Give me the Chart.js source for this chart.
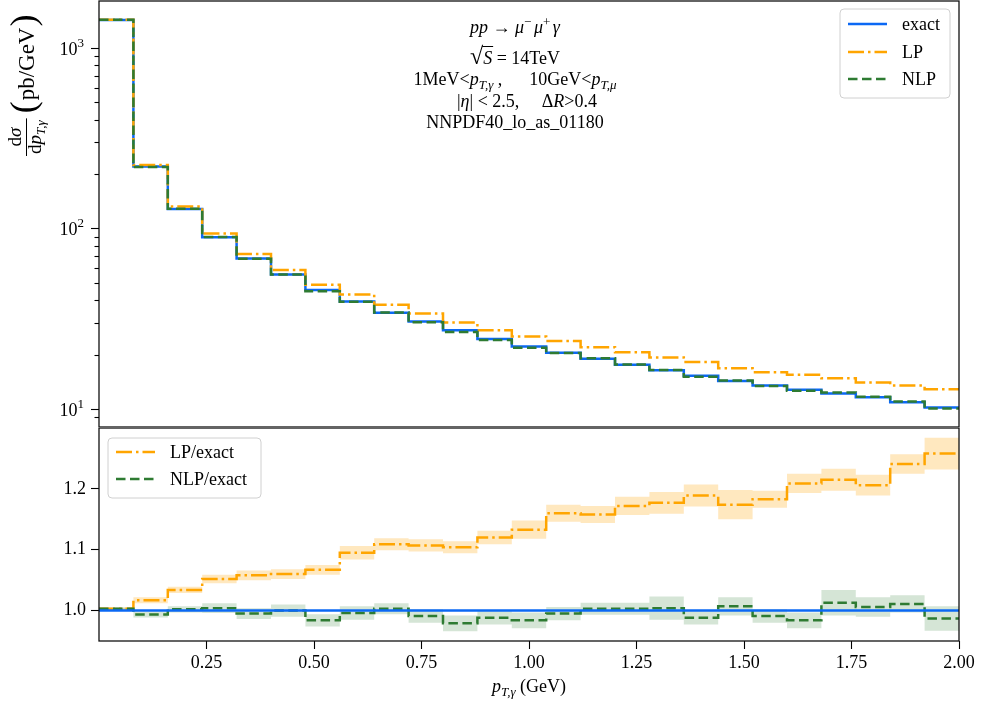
<!DOCTYPE html>
<html>
<head>
<meta charset="utf-8">
<title>pT,gamma spectrum</title>
<script src="https://cdn.jsdelivr.net/npm/chart.js@4.4.1/dist/chart.umd.min.js"></script>
<style>
  html, body { margin: 0; padding: 0; background: #fff; }
  #wrap { position: relative; width: 981px; height: 705px; }
  canvas { position: absolute; left: 0; }
  #topChart { top: 0; }
  #ratioChart { top: 428px; }
</style>
</head>
<body>
<div id="wrap">
  <canvas id="topChart" width="981" height="428"></canvas>
  <canvas id="ratioChart" width="981" height="277"></canvas>
</div>
<script>
// bin edges of the p_T,gamma histogram (GeV)
const binEdges = [0.00, 0.08, 0.16, 0.24, 0.32, 0.40, 0.48, 0.56, 0.64, 0.72, 0.80, 0.88, 0.96,
                  1.04, 1.12, 1.20, 1.28, 1.36, 1.44, 1.52, 1.60, 1.68, 1.76, 1.84, 1.92, 2.00];

// d sigma / d pT (pb/GeV), one value per bin
const exactXsec = [1423, 220, 128, 89.2, 68.2, 55.5, 45.6, 39.4, 34.1, 30.5, 27.3, 24.4, 22.2,
                   20.5, 19.0, 17.6, 16.4, 15.3, 14.3, 13.5, 12.8, 12.2, 11.6, 10.9, 10.2];
const lpXsec    = [1427, 224, 132, 93.8, 72.2, 58.8, 48.7, 43.1, 37.8, 33.8, 30.1, 27.3, 25.2,
                   23.8, 22.0, 20.6, 19.3, 18.2, 16.8, 16.0, 15.5, 14.8, 14.0, 13.5, 12.85];
const nlpXsec   = [1427, 218.6, 128.3, 89.6, 67.9, 55.5, 44.9, 39.2, 34.2, 30.2, 26.7, 24.1, 21.8,
                   20.4, 19.1, 17.65, 16.45, 15.1, 14.4, 13.4, 12.6, 12.35, 11.7, 11.0, 10.05];

// ratio panel
const exactRatio  = [1, 1, 1, 1, 1, 1, 1, 1, 1, 1, 1, 1, 1, 1, 1, 1, 1, 1, 1, 1, 1, 1, 1, 1, 1];
const lpRatio     = [1.003, 1.017, 1.034, 1.052, 1.058, 1.060, 1.067, 1.095, 1.109, 1.107, 1.104, 1.120, 1.133,
                     1.160, 1.158, 1.172, 1.177, 1.189, 1.174, 1.183, 1.209, 1.215, 1.206, 1.241, 1.258];
const lpRatioErr  = [0.002, 0.005, 0.005, 0.007, 0.008, 0.008, 0.008, 0.011, 0.010, 0.010, 0.010, 0.011, 0.015,
                     0.014, 0.014, 0.015, 0.018, 0.018, 0.024, 0.014, 0.016, 0.018, 0.017, 0.016, 0.026];
const nlpRatio    = [1.003, 0.9935, 1.002, 1.004, 0.995, 1.000, 0.984, 0.996, 1.003, 0.991, 0.979, 0.988, 0.984,
                     0.995, 1.003, 1.003, 1.004, 0.988, 1.007, 0.991, 0.984, 1.013, 1.006, 1.011, 0.987];
const nlpRatioErr = [0.002, 0.005, 0.005, 0.008, 0.009, 0.010, 0.010, 0.011, 0.009, 0.011, 0.013, 0.011, 0.013,
                     0.011, 0.010, 0.010, 0.019, 0.011, 0.015, 0.011, 0.013, 0.021, 0.016, 0.014, 0.020];

const xTicks = [0.25, 0.50, 0.75, 1.00, 1.25, 1.50, 1.75, 2.00];
const ratioTicks = [1.0, 1.1, 1.2];
const xRange = [0, 2];
const xsecRange = [7.95, 1815];
const ratioRange = [0.95, 1.30];

const SERIF = '"Liberation Serif", "DejaVu Serif", serif';
const BLUE = '#0b68f4';
const ORANGE = '#ffa500';
const GREEN = '#2e7b32';
const DASHDOT = [16, 4, 2.5, 4];
const DASHED = [9.5, 4.5];

// step points: value of bin i holds from edge i to edge i+1
const toSteps = vals => vals.map((v, i) => ({ x: binEdges[i], y: v }))
    .concat([{ x: binEdges[vals.length], y: vals[vals.length - 1] }]);

const stepLine = (label, vals, color, dash, order) => ({
    label, data: toSteps(vals), borderColor: color, borderWidth: 2.5, borderDash: dash,
    stepped: true, pointRadius: 0, fill: false, order
});

// draw a run of text pieces (italic, size, baseline shift); returns piece positions
function rich(ctx, segs, x, y, align) {
    const fontOf = s => (s.i ? 'italic ' : '') + (s.s || 18) + 'px ' + SERIF;
    let total = 0;
    segs.forEach(s => { ctx.font = fontOf(s); s.w = ctx.measureText(s.t).width; total += s.w; });
    let cx = align === 'center' ? x - total / 2 : (align === 'right' ? x - total : x);
    ctx.textAlign = 'left';
    ctx.textBaseline = 'alphabetic';
    segs.forEach(s => {
        ctx.font = fontOf(s);
        ctx.fillText(s.t, cx, y + (s.dy || 0));
        s.x = cx;
        cx += s.w;
    });
    return { total, segs };
}

function legendBox(ctx, x, y, w, h, rows) {
    ctx.save();
    ctx.beginPath();
    ctx.roundRect(x, y, w, h, 4);
    ctx.fillStyle = 'rgba(255,255,255,0.8)';
    ctx.fill();
    ctx.strokeStyle = '#d0d0d0';
    ctx.lineWidth = 1;
    ctx.stroke();
    rows.forEach(r => {
        ctx.beginPath();
        ctx.setLineDash(r.dash);
        ctx.strokeStyle = r.color;
        ctx.lineWidth = 2.5;
        ctx.moveTo(x + 8, r.y);
        ctx.lineTo(x + 47, r.y);
        ctx.stroke();
        ctx.setLineDash([]);
        ctx.fillStyle = '#000';
        ctx.font = '18px ' + SERIF;
        ctx.textAlign = 'left';
        ctx.textBaseline = 'alphabetic';
        ctx.fillText(r.text, x + 62, r.y + 6);
    });
    ctx.restore();
}

function frame(ctx, area) {
    ctx.save();
    ctx.strokeStyle = '#111';
    ctx.lineWidth = 1.3;
    ctx.strokeRect(area.left, area.top, area.right - area.left, area.bottom - area.top);
    ctx.restore();
}

const topDecor = {
    id: 'topDecor',
    afterDraw(chart) {
        const ctx = chart.ctx;
        const area = chart.chartArea;
        const y = chart.scales.y;
        frame(ctx, area);

        // log ticks: long with a 10^n label at decades, short at 2..9
        ctx.save();
        ctx.strokeStyle = '#000';
        ctx.fillStyle = '#000';
        ctx.lineWidth = 1.1;
        y.ticks.forEach(t => {
            const e = Math.floor(Math.log10(t.value) + 1e-9);
            const m = t.value / Math.pow(10, e);
            if (Math.abs(m - Math.round(m)) > 1e-6) return;
            const decade = Math.round(m) === 1;
            const len = decade ? 8 : 4.5;
            const py = Math.round(y.getPixelForValue(t.value)) + 0.5;
            ctx.beginPath();
            ctx.moveTo(area.left - len, py);
            ctx.lineTo(area.left, py);
            ctx.stroke();
            if (decade) {
                rich(ctx, [{ t: '10' }, { t: String(e), s: 13, dy: -8 }], 84, py + 6, 'right');
            }
        });
        ctx.restore();

        // process description
        ctx.save();
        ctx.fillStyle = '#000';
        const cx = 515;
        rich(ctx, [{ t: 'pp', i: 1 }, { t: ' → ' }, { t: 'μ', i: 1 }, { t: '−', s: 13, dy: -7 }, { t: ' ', s: 10 },
                   { t: 'μ', i: 1 }, { t: '+', s: 13, dy: -7 }, { t: ' ', s: 10 }, { t: 'γ', i: 1 }], cx, 33, 'center');
        const l2 = rich(ctx, [{ t: '√', s: 24 }, { t: 'S', i: 1 }, { t: ' = 14TeV' }], cx, 64, 'center');
        const root = l2.segs[0], sVar = l2.segs[1];
        ctx.strokeStyle = '#000';
        ctx.lineWidth = 1;
        ctx.beginPath();
        ctx.moveTo(root.x + root.w - 1, 46.5);
        ctx.lineTo(sVar.x + sVar.w + 1, 46.5);
        ctx.stroke();
        rich(ctx, [{ t: '1MeV<' }, { t: 'p', i: 1 }, { t: 'T,γ', i: 1, s: 13, dy: 4 }, { t: ' ,      10GeV<' },
                   { t: 'p', i: 1 }, { t: 'T,μ', i: 1, s: 13, dy: 4 }], cx, 85, 'center');
        rich(ctx, [{ t: '|' }, { t: 'η', i: 1 }, { t: '| < 2.5,     Δ' }, { t: 'R', i: 1 }, { t: '>0.4' }],
             cx + 12, 107, 'center');
        rich(ctx, [{ t: 'NNPDF40_lo_as_01180' }], cx, 128, 'center');

        // y axis title, rotated
        ctx.translate(0, 156);
        ctx.rotate(-Math.PI / 2);
        const num = [{ t: 'd', s: 19 }, { t: 'σ', i: 1, s: 19 }];
        const den = [{ t: 'd', s: 19 }, { t: 'p', i: 1, s: 19 }, { t: 'T,γ', i: 1, s: 13, dy: 4 }];
        let wNum = 0, wDen = 0;
        num.forEach(s => { ctx.font = (s.i ? 'italic ' : '') + s.s + 'px ' + SERIF; wNum += ctx.measureText(s.t).width; });
        den.forEach(s => { ctx.font = (s.i ? 'italic ' : '') + s.s + 'px ' + SERIF; wDen += ctx.measureText(s.t).width; });
        const fw = Math.max(wNum, wDen) + 4;
        rich(ctx, num, fw / 2, 21, 'center');
        rich(ctx, den, fw / 2, 41, 'center');
        ctx.lineWidth = 1;
        ctx.beginPath();
        ctx.moveTo(0, 26.5);
        ctx.lineTo(fw, 26.5);
        ctx.stroke();
        let u = fw + 5;
        const lp = rich(ctx, [{ t: '(', s: 36 }], u, 35, 'left');
        u += lp.total + 1;
        const unit = rich(ctx, [{ t: 'pb/GeV', s: 23 }], u, 34, 'left');
        u += unit.total + 1;
        rich(ctx, [{ t: ')', s: 36 }], u, 35, 'left');
        ctx.restore();

        legendBox(ctx, 840, 9, 110, 89, [
            { text: 'exact', color: BLUE, dash: [], y: 24 },
            { text: 'LP', color: ORANGE, dash: DASHDOT, y: 52 },
            { text: 'NLP', color: GREEN, dash: DASHED, y: 79 }
        ]);
    }
};

const ratioDecor = {
    id: 'ratioDecor',
    afterDraw(chart) {
        const ctx = chart.ctx;
        const area = chart.chartArea;
        frame(ctx, area);
        ctx.save();
        ctx.fillStyle = '#000';
        const xc = (area.left + area.right) / 2;
        rich(ctx, [{ t: 'p', i: 1 }, { t: 'T,γ', i: 1, s: 13, dy: 4 }, { t: ' (GeV)' }], xc, 264, 'center');
        ctx.restore();
        legendBox(ctx, 108, 10, 153, 60, [
            { text: 'LP/exact', color: ORANGE, dash: DASHDOT, y: 24 },
            { text: 'NLP/exact', color: GREEN, dash: DASHED, y: 51 }
        ]);
    }
};

const tickFont = { family: SERIF, size: 18 };

new Chart(document.getElementById('topChart'), {
    type: 'line',
    data: {
        datasets: [
            stepLine('exact', exactXsec, BLUE, [], 3),
            stepLine('LP', lpXsec, ORANGE, DASHDOT, 2),
            stepLine('NLP', nlpXsec, GREEN, DASHED, 1)
        ]
    },
    options: {
        responsive: false,
        devicePixelRatio: 1,
        animation: false,
        layout: { padding: { top: 1, bottom: 1, left: 0, right: 22 } },
        plugins: { legend: { display: false }, tooltip: { enabled: false } },
        scales: {
            x: { type: 'linear', min: xRange[0], max: xRange[1], display: false },
            y: {
                type: 'logarithmic',
                min: xsecRange[0], max: xsecRange[1],
                grid: { display: false },
                border: { display: false },
                // labels are drawn by topDecor so the exponent can be raised
                ticks: { autoSkip: false, callback: () => '' },
                afterFit: s => { s.width = 99; s.paddingTop = 0; s.paddingBottom = 0; }
            }
        }
    },
    plugins: [topDecor]
});

const bandFill = (vals, errs, sign) => toSteps(vals.map((v, i) => v + sign * errs[i]));

new Chart(document.getElementById('ratioChart'), {
    type: 'line',
    data: {
        datasets: [
            { label: 'LP band', data: bandFill(lpRatio, lpRatioErr, 1), stepped: true, pointRadius: 0,
              borderColor: 'transparent', borderWidth: 0, backgroundColor: 'rgba(255,165,0,0.25)', fill: '+1', order: 10 },
            { label: 'LP band low', data: bandFill(lpRatio, lpRatioErr, -1), stepped: true, pointRadius: 0,
              borderColor: 'transparent', borderWidth: 0, fill: false, order: 10 },
            { label: 'NLP band', data: bandFill(nlpRatio, nlpRatioErr, 1), stepped: true, pointRadius: 0,
              borderColor: 'transparent', borderWidth: 0, backgroundColor: 'rgba(46,125,50,0.2)', fill: '+1', order: 9 },
            { label: 'NLP band low', data: bandFill(nlpRatio, nlpRatioErr, -1), stepped: true, pointRadius: 0,
              borderColor: 'transparent', borderWidth: 0, fill: false, order: 9 },
            stepLine('LP/exact', lpRatio, ORANGE, DASHDOT, 3),
            stepLine('NLP/exact', nlpRatio, GREEN, DASHED, 2),
            stepLine('exact/exact', exactRatio, BLUE, [], 1)
        ]
    },
    options: {
        responsive: false,
        devicePixelRatio: 1,
        animation: false,
        layout: { padding: { top: 0, bottom: 0, left: 0, right: 22 } },
        plugins: { legend: { display: false }, tooltip: { enabled: false } },
        scales: {
            x: {
                type: 'linear', min: xRange[0], max: xRange[1],
                afterBuildTicks: s => { s.ticks = xTicks.map(v => ({ value: v })); },
                grid: { drawOnChartArea: false, drawTicks: true, tickLength: 8, tickColor: '#000', tickWidth: 1.1 },
                border: { display: false },
                ticks: { padding: 3, color: '#000', font: tickFont, maxRotation: 0, autoSkip: false,
                         callback: v => v.toFixed(2) },
                afterFit: s => { s.height = 64; s.paddingLeft = 0; s.paddingRight = 0; }
            },
            y: {
                min: ratioRange[0], max: ratioRange[1],
                afterBuildTicks: s => { s.ticks = ratioTicks.map(v => ({ value: v })); },
                grid: { drawOnChartArea: false, drawTicks: true, tickLength: 8, tickColor: '#000', tickWidth: 1.1 },
                border: { display: false },
                ticks: { padding: 5, color: '#000', font: tickFont, autoSkip: false,
                         callback: v => v.toFixed(1) },
                afterFit: s => { s.width = 99; s.paddingTop = 0; s.paddingBottom = 0; }
            }
        }
    },
    plugins: [ratioDecor]
});
</script>
</body>
</html>
